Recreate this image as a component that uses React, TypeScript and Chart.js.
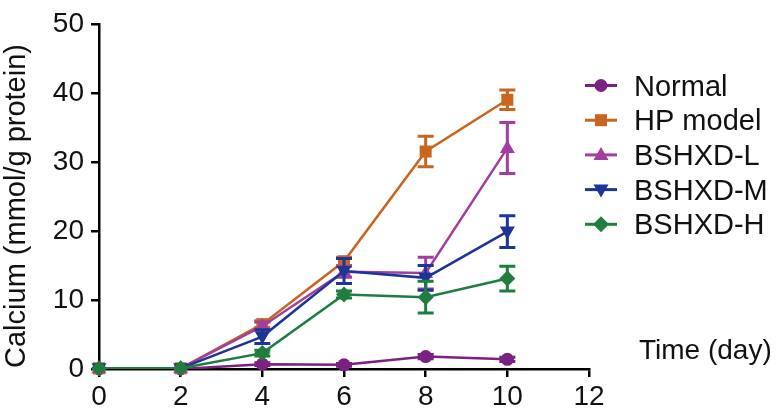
import React, { useEffect, useRef } from "react";
import { Chart, registerables } from "chart.js";

Chart.register(...registerables);

const days = [0, 2, 4, 6, 8, 10];
const seriesNames = ["Normal", "HP model", "BSHXD-L", "BSHXD-M", "BSHXD-H"];
const normalVals = [0, 0, 0.7, 0.6, 1.8, 1.4];
const normalErr = [0, 0, 0.2, 0.2, 0.3, 0.3];
const hpVals = [0.1, 0.1, 6.5, 15.6, 31.5, 39.0];
const hpErr = [0, 0, 0.5, 0.6, 2.2, 1.4];
const lVals = [0.1, 0.1, 6.2, 14.1, 13.9, 32.0];
const lErr = [0, 0, 0.6, 0.8, 2.3, 3.7];
const mVals = [0.1, 0.1, 4.7, 14.2, 13.2, 19.9];
const mErr = [0, 0, 1.0, 1.8, 1.8, 2.3];
const hVals = [0.1, 0.1, 2.3, 10.8, 10.4, 13.1];
const hErr = [0, 0, 0.4, 0.5, 2.3, 1.8];
const xTicks = [0, 2, 4, 6, 8, 10, 12];
const yTicks = [0, 10, 20, 30, 40, 50];

const colors = ["#7a2182", "#c8651e", "#a23e9e", "#1d3596", "#1f7e3e"];
const markers = ["circle", "rect", "triangle", "triangleDown", "rectRot"];
const allVals = [normalVals, hpVals, lVals, mVals, hVals];
const allErr = [normalErr, hpErr, lErr, mErr, hErr];

const FONT = '"Liberation Sans", Arial, Helvetica, sans-serif';

function drawMarker(ctx: CanvasRenderingContext2D, kind: string, x: number, y: number, color: string) {
  ctx.save();
  ctx.fillStyle = color;
  ctx.beginPath();
  if (kind === "circle") {
    ctx.arc(x, y, 6.5, 0, Math.PI * 2);
  } else if (kind === "rect") {
    ctx.rect(x - 6, y - 6, 12, 12);
  } else if (kind === "triangle") {
    ctx.moveTo(x, y - 8);
    ctx.lineTo(x + 7.5, y + 5);
    ctx.lineTo(x - 7.5, y + 5);
    ctx.closePath();
  } else if (kind === "triangleDown") {
    ctx.moveTo(x, y + 8);
    ctx.lineTo(x + 7.5, y - 5);
    ctx.lineTo(x - 7.5, y - 5);
    ctx.closePath();
  } else {
    ctx.moveTo(x, y - 8);
    ctx.lineTo(x + 8, y);
    ctx.lineTo(x, y + 8);
    ctx.lineTo(x - 8, y);
    ctx.closePath();
  }
  ctx.fill();
  ctx.restore();
}

const customPlugin = {
  id: "customDraw",
  afterDatasetDraw(chart: any, args: any) {
    const ds = chart.data.datasets[args.index];
    const ctx: CanvasRenderingContext2D = chart.ctx;
    const yS = chart.scales.y;
    const errs: number[] = ds.errs;
    const meta = args.meta;
    ctx.save();
    ctx.strokeStyle = ds.borderColor;
    ctx.lineWidth = 3;
    meta.data.forEach((pt: any, j: number) => {
      const e = errs[j];
      if (!e) return;
      const v = ds.data[j].y;
      const top = yS.getPixelForValue(v + e);
      const bot = yS.getPixelForValue(v - e);
      ctx.beginPath();
      ctx.moveTo(pt.x, top);
      ctx.lineTo(pt.x, bot);
      ctx.moveTo(pt.x - 8, top);
      ctx.lineTo(pt.x + 8, top);
      ctx.moveTo(pt.x - 8, bot);
      ctx.lineTo(pt.x + 8, bot);
      ctx.stroke();
    });
    ctx.restore();
    meta.data.forEach((pt: any) => {
      drawMarker(ctx, markers[args.index], pt.x, pt.y, ds.borderColor);
    });
  },
  afterDraw(chart: any) {
    const ctx: CanvasRenderingContext2D = chart.ctx;
    ctx.save();
    seriesNames.forEach((name, i) => {
      const y = 85.5 + i * 34.7;
      ctx.strokeStyle = colors[i];
      ctx.lineWidth = 3;
      ctx.beginPath();
      ctx.moveTo(585, y);
      ctx.lineTo(617, y);
      ctx.stroke();
      drawMarker(ctx, markers[i], 601, y, colors[i]);
      ctx.fillStyle = "#111";
      ctx.font = `29px ${FONT}`;
      ctx.textAlign = "left";
      ctx.textBaseline = "alphabetic";
      ctx.fillText(name, 634, y + 10);
    });
    ctx.font = `28px ${FONT}`;
    ctx.fillStyle = "#111";
    ctx.textAlign = "left";
    ctx.textBaseline = "alphabetic";
    ctx.fillText("Time (day)", 639, 359);
    ctx.translate(25, 206);
    ctx.rotate(-Math.PI / 2);
    ctx.textAlign = "center";
    ctx.font = `29px ${FONT}`;
    ctx.fillText("Calcium (mmol/g protein)", 0, 0);
    ctx.restore();
  },
};

export default function App() {
  const ref = useRef<HTMLCanvasElement>(null);
  useEffect(() => {
    document.body.style.margin = "0";
    const canvas = ref.current;
    if (!canvas) return;
    const datasets = seriesNames.map((name, i) => ({
      label: name,
      data: days.map((d, j) => ({ x: d, y: allVals[i][j] })),
      errs: allErr[i],
      borderColor: colors[i],
      backgroundColor: colors[i],
      borderWidth: 2.5,
      pointRadius: 0,
      tension: 0,
      order: 4 - i,
    }));
    const chart = new Chart(canvas, {
      type: "line",
      data: { datasets: datasets as any },
      options: {
        animation: false,
        responsive: false,
        maintainAspectRatio: false,
        layout: { padding: { left: 0, right: 187, top: 16, bottom: 0 } },
        plugins: { legend: { display: false }, tooltip: { enabled: false } },
        scales: {
          x: {
            type: "linear",
            min: 0,
            max: 12,
            afterFit: (s: any) => {
              s.height = 39;
            },
            afterBuildTicks: (s: any) => {
              s.ticks = xTicks.map((v) => ({ value: v }));
            },
            ticks: {
              color: "#111",
              font: { family: FONT, size: 28 },
              padding: 3,
              maxRotation: 0,
              autoSkip: false,
            },
            grid: {
              display: true,
              drawOnChartArea: false,
              drawTicks: true,
              tickLength: 8,
              color: "#000",
              lineWidth: 2.5,
            },
            border: { display: true, color: "#000", width: 2.5 },
          },
          y: {
            type: "linear",
            min: 0,
            max: 50,
            afterFit: (s: any) => {
              s.width = 99;
            },
            afterBuildTicks: (s: any) => {
              s.ticks = yTicks.map((v) => ({ value: v }));
            },
            ticks: {
              color: "#111",
              font: { family: FONT, size: 28 },
              padding: 7,
              autoSkip: false,
            },
            grid: {
              display: true,
              drawOnChartArea: false,
              drawTicks: true,
              tickLength: 8,
              color: "#000",
              lineWidth: 2.5,
            },
            border: { display: true, color: "#000", width: 2.5 },
          },
        },
      },
      plugins: [customPlugin],
    });
    return () => chart.destroy();
  }, []);
  return <canvas ref={ref} width={776} height={408} style={{ display: "block" }} />;
}
